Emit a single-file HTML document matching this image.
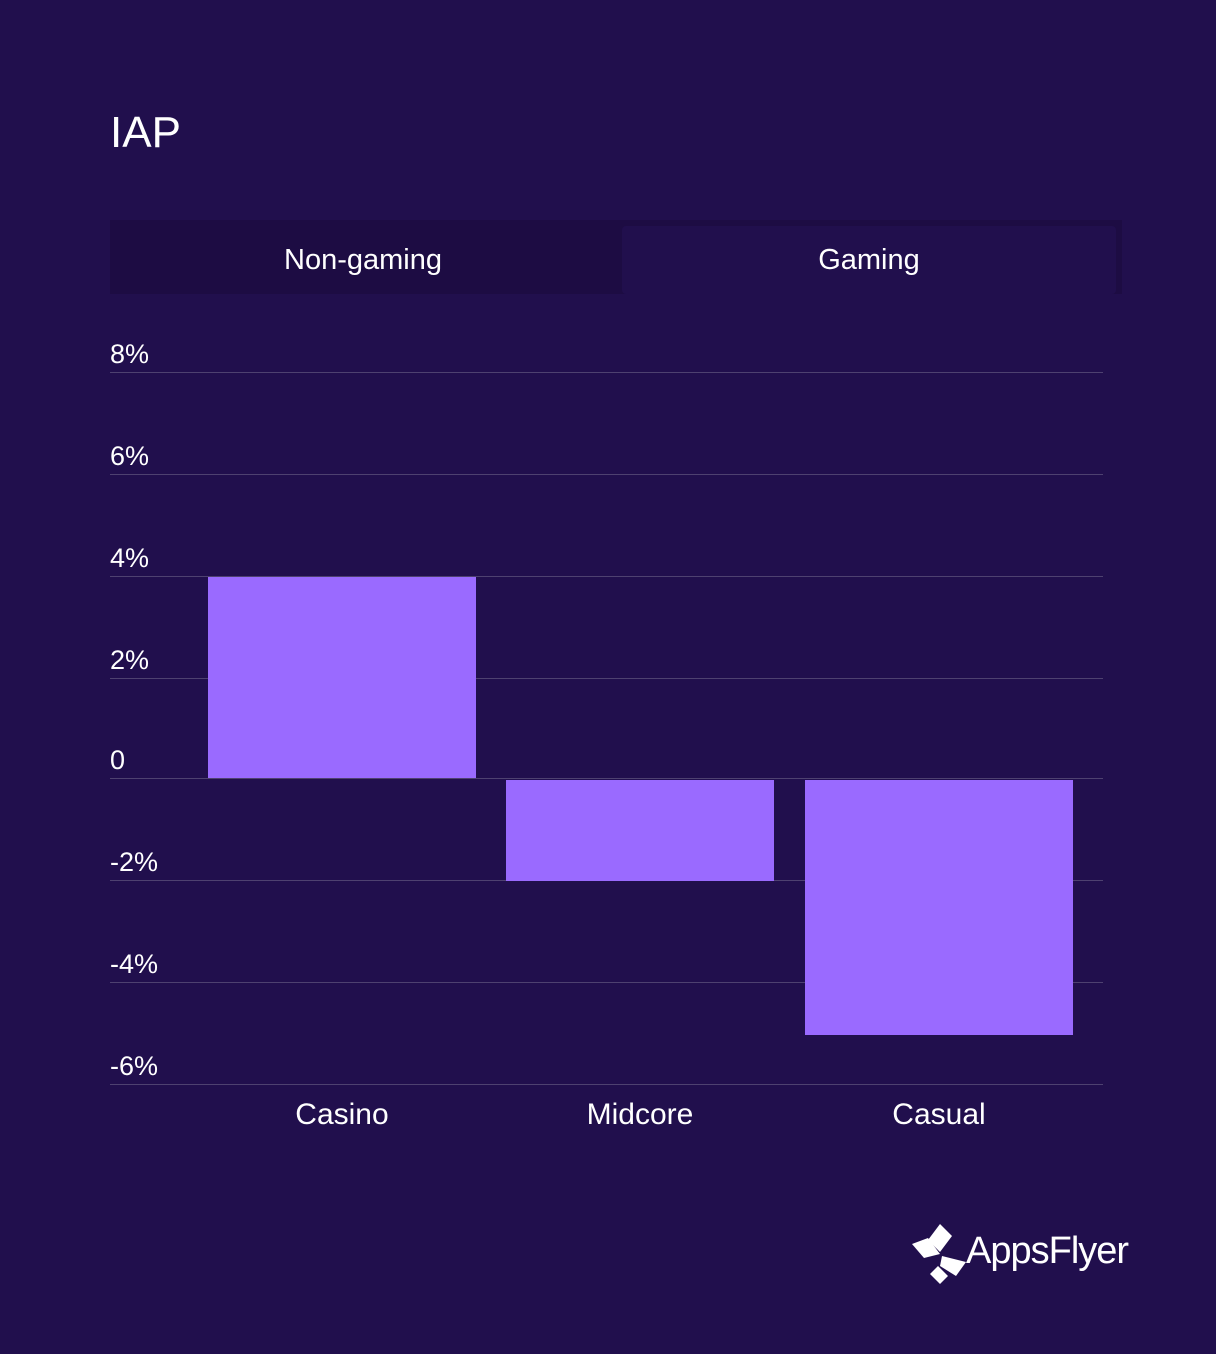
<!DOCTYPE html>
<html><head><style>
body{margin:0;width:1216px;height:1354px;background:#210f4d;font-family:"Liberation Sans",sans-serif;color:#fff;position:relative;overflow:hidden}
.a{position:absolute}
.g{position:absolute;left:110px;width:993px;height:1px;background:#4e4170}
.l{position:absolute;left:110px;font-size:27px;line-height:1}
.b{position:absolute;background:#9a6aff}
.x{position:absolute;font-size:30px;width:268px;text-align:center;top:1098px}
</style></head><body>
<div class="a" style="left:110px;top:108px;font-size:44px">IAP</div>
<div class="a" style="left:110px;top:220px;width:1012px;height:74px;background:#1d0c43"></div>
<div class="a" style="left:622px;top:226px;width:494px;height:68px;background:#210f4d;border-radius:4px"></div>
<div class="a" style="left:110px;top:244px;width:506px;text-align:center;font-size:29px">Non-gaming</div>
<div class="a" style="left:622px;top:244px;width:494px;text-align:center;font-size:29px">Gaming</div>
<div class="g" style="top:372px"></div><div class="l" style="top:341px">8%</div>
<div class="g" style="top:474px"></div><div class="l" style="top:443px">6%</div>
<div class="g" style="top:576px"></div><div class="l" style="top:545px">4%</div>
<div class="g" style="top:678px"></div><div class="l" style="top:647px">2%</div>
<div class="g" style="top:778px"></div><div class="l" style="top:747px">0</div>
<div class="g" style="top:880px"></div><div class="l" style="top:849px">-2%</div>
<div class="g" style="top:982px"></div><div class="l" style="top:951px">-4%</div>
<div class="g" style="top:1084px"></div><div class="l" style="top:1053px">-6%</div>
<div class="b" style="left:208px;top:577px;width:268px;height:201px"></div>
<div class="b" style="left:506px;top:780px;width:268px;height:101px"></div>
<div class="b" style="left:805px;top:780px;width:268px;height:255px"></div>
<div class="x" style="left:208px">Casino</div>
<div class="x" style="left:506px">Midcore</div>
<div class="x" style="left:805px">Casual</div>
<svg class="a" style="left:910px;top:1222px" width="60" height="64" viewBox="0 0 60 64">
<polygon points="30,2 42,14 30,30 18,18" fill="#fff"/>
<polygon points="2,22 18,16 30,32 14,36" fill="#fff"/>
<polygon points="32,34 56,40 46,54 30,44" fill="#fff"/>
<polygon points="28,44 38,54 30,62 20,52" fill="#fff"/>
</svg>
<div class="a" style="left:966px;top:1230px;font-size:38px;letter-spacing:-1px">AppsFlyer</div>
</body></html>
